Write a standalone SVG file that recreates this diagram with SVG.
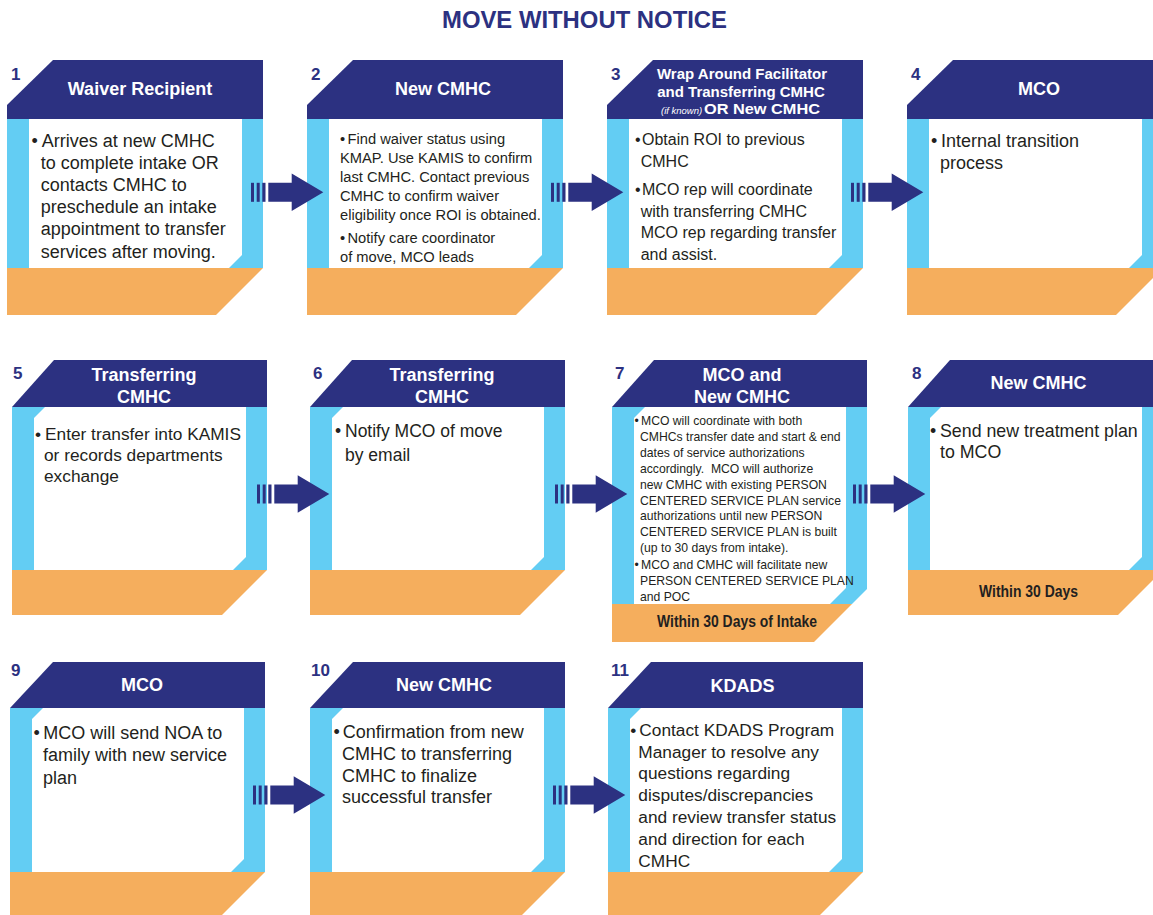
<svg xmlns="http://www.w3.org/2000/svg" xmlns:xlink="http://www.w3.org/1999/xlink" width="1153" height="915" viewBox="0 0 1153 915">
<style>
.nv{fill:#2c3181}
.lb{fill:#63cdf3}
.wh{fill:#ffffff}
.or{fill:#f5ae5d}
.ttl{font-family:"Liberation Sans",Arial,sans-serif;font-weight:bold;fill:#2c3181;font-size:24px;text-anchor:middle}
.num{font-family:"Liberation Sans",Arial,sans-serif;font-weight:bold;fill:#2c3181;font-size:17px}
.hd{font-family:"Liberation Sans",Arial,sans-serif;font-weight:bold;fill:#ffffff;font-size:18px;text-anchor:middle}
.hs{font-family:"Liberation Sans",Arial,sans-serif;font-weight:bold;fill:#ffffff;font-size:15px;text-anchor:middle}
.it{font-family:"Liberation Sans",Arial,sans-serif;font-style:italic;font-weight:normal;fill:#ffffff;font-size:9.5px}
.bd{font-family:"Liberation Sans",Arial,sans-serif;fill:#231f20}
.ft{font-family:"Liberation Sans",Arial,sans-serif;font-weight:bold;fill:#231f20;font-size:16px;text-anchor:middle}
</style>
<defs>
<g id="arr" class="nv">
<rect x="0" y="-9.5" width="3" height="19"/>
<rect x="5.7" y="-9.5" width="3" height="19"/>
<rect x="11.3" y="-9.5" width="3.2" height="19"/>
<polygon points="17.3,-9.5 40.7,-9.5 40.7,-18.7 72.3,0 40.7,18.7 40.7,9.5 17.3,9.5"/>
</g>
</defs>
<rect x="0" y="0" width="1153" height="915" fill="#ffffff"/>
<text class="ttl" x="584.5" y="28" textLength="285" lengthAdjust="spacingAndGlyphs">MOVE WITHOUT NOTICE</text>

<!-- Row 1 -->
<g id="node1">
<polygon class="nv" points="53,60 263,60 263,119 7,119 7,105"/>
<rect class="lb" x="7" y="119" width="256" height="149"/>
<polygon class="wh" points="29,119 242,119 242,255 229,268 29,268"/>
<polygon class="or" points="7,268 263,268 216,315 7,315"/>
<text class="num" x="11" y="80">1</text>
<text class="hd" x="140" y="94.5">Waiver Recipient</text>
<g class="bd" font-size="18">
<text x="31.5" y="146.5">•</text>
<text x="41.7" y="146.5">Arrives at new CMHC</text>
<text x="40.7" y="168.7">to complete intake OR</text>
<text x="40.7" y="190.9">contacts CMHC to</text>
<text x="40.7" y="213.1">preschedule an intake</text>
<text x="40.7" y="235.3">appointment to transfer</text>
<text x="40.7" y="257.5">services after moving.</text>
</g>
</g>

<g id="node2">
<polygon class="nv" points="353,60 563,60 563,119 307,119 307,105"/>
<rect class="lb" x="307" y="119" width="256" height="149"/>
<polygon class="wh" points="329,119 542,119 542,255 529,268 329,268"/>
<polygon class="or" points="307,268 563,268 516,315 307,315"/>
<text class="num" x="311" y="80">2</text>
<text class="hd" x="443" y="94.5">New CMHC</text>
<g class="bd" font-size="14.7">
<text x="340" y="143.5">•</text>
<text x="347.5" y="143.5">Find waiver status using</text>
<text x="340" y="162.5">KMAP. Use KAMIS to confirm</text>
<text x="340" y="181.5">last CMHC. Contact previous</text>
<text x="340" y="200.5">CMHC to confirm waiver</text>
<text x="340" y="219.5">eligibility once ROI is obtained.</text>
<text x="340" y="243">•</text>
<text x="347.5" y="243">Notify care coordinator</text>
<text x="340" y="262">of move, MCO leads</text>
</g>
</g>

<g id="node3">
<polygon class="nv" points="653,60 863,60 863,119 607,119 607,105"/>
<rect class="lb" x="607" y="119" width="256" height="149"/>
<polygon class="wh" points="629,119 842,119 842,255 829,268 629,268"/>
<polygon class="or" points="607,268 863,268 816,315 607,315"/>
<text class="num" x="611" y="80">3</text>
<text class="hs" x="742" y="79">Wrap Around Facilitator</text>
<text class="hs" x="741" y="97">and Transferring CMHC</text>
<text class="it" x="661" y="114">(if known)</text>
<text class="hs" x="704" y="114" style="text-anchor:start" textLength="116" lengthAdjust="spacingAndGlyphs">OR New CMHC</text>
<g class="bd" font-size="16">
<text x="635" y="145">•</text>
<text x="642" y="145">Obtain ROI to previous</text>
<text x="640.7" y="166.7">CMHC</text>
<text x="635" y="195">•</text>
<text x="642" y="195">MCO rep will coordinate</text>
<text x="640.7" y="216.7">with transferring CMHC</text>
<text x="640.7" y="238.3">MCO rep regarding transfer</text>
<text x="640.7" y="260">and assist.</text>
</g>
</g>

<g id="node4">
<polygon class="nv" points="953,60 1163,60 1163,119 907,119 907,105"/>
<rect class="lb" x="907" y="119" width="256" height="149"/>
<polygon class="wh" points="929,119 1142,119 1142,255 1129,268 929,268"/>
<polygon class="or" points="907,268 1163,268 1116,315 907,315"/>
<text class="num" x="911" y="80">4</text>
<text class="hd" x="1039" y="94.5">MCO</text>
<g class="bd" font-size="18">
<text x="931" y="146.5">•</text>
<text x="941" y="146.5">Internal transition</text>
<text x="940" y="168.7">process</text>
</g>
</g>

<!-- Row 2 -->
<g id="node5">
<polygon class="nv" points="54,360 267,360 267,407 12,407"/>
<rect class="lb" x="12" y="407" width="255" height="163"/>
<polygon class="wh" points="34,418 45,407 246,407 246,557 233,570 34,570"/>
<polygon class="or" points="12,570 267,570 222,615 12,615"/>
<text class="num" x="13" y="379">5</text>
<text class="hd" x="144" y="381">Transferring</text>
<text class="hd" x="144" y="403">CMHC</text>
<g class="bd" font-size="17.3">
<text x="35" y="440">•</text>
<text x="45" y="440">Enter transfer into KAMIS</text>
<text x="44" y="461">or records departments</text>
<text x="44" y="482">exchange</text>
</g>
</g>

<g id="node6">
<polygon class="nv" points="352,360 565,360 565,407 310,407"/>
<rect class="lb" x="310" y="407" width="255" height="163"/>
<polygon class="wh" points="332,418 343,407 544,407 544,557 531,570 332,570"/>
<polygon class="or" points="310,570 565,570 520,615 310,615"/>
<text class="num" x="313" y="379">6</text>
<text class="hd" x="442" y="381">Transferring</text>
<text class="hd" x="442" y="403">CMHC</text>
<g class="bd" font-size="17.5">
<text x="335" y="437">•</text>
<text x="345" y="437">Notify MCO of move</text>
<text x="345" y="461">by email</text>
</g>
</g>

<g id="node7">
<polygon class="nv" points="654,360 867,360 867,407 612,407"/>
<polygon class="lb" points="612,407 867,407 867,589 852,604 612,604"/>
<polygon class="wh" points="634,418 645,407 846,407 846,588 830,604 634,604"/>
<polygon class="or" points="612,604 852,604 814,642 612,642"/>
<text class="num" x="615" y="379">7</text>
<text class="hd" x="742" y="381">MCO and</text>
<text class="hd" x="742" y="403">New CMHC</text>
<g class="bd" font-size="12.2">
<text x="634.5" y="425">•</text>
<text x="641" y="425">MCO will coordinate with both</text>
<text x="640" y="440.9">CMHCs transfer date and start &amp; end</text>
<text x="640" y="456.8">dates of service authorizations</text>
<text x="640" y="472.7" xml:space="preserve">accordingly.  MCO will authorize</text>
<text x="640" y="488.6">new CMHC with existing PERSON</text>
<text x="640" y="504.5">CENTERED SERVICE PLAN service</text>
<text x="640" y="520.4">authorizations until new PERSON</text>
<text x="640" y="536.3">CENTERED SERVICE PLAN is built</text>
<text x="640" y="552.2">(up to 30 days from intake).</text>
<text x="634.5" y="569">•</text>
<text x="641" y="569">MCO and CMHC will facilitate new</text>
<text x="640" y="585">PERSON CENTERED SERVICE PLAN</text>
<text x="640" y="601">and POC</text>
</g>
<text class="ft" x="737" y="627" textLength="160" lengthAdjust="spacingAndGlyphs">Within 30 Days of Intake</text>
</g>

<g id="node8">
<polygon class="nv" points="950,360 1163,360 1163,407 908,407"/>
<rect class="lb" x="908" y="407" width="255" height="163"/>
<polygon class="wh" points="930,418 941,407 1142,407 1142,557 1129,570 930,570"/>
<polygon class="or" points="908,570 1163,570 1118,615 908,615"/>
<text class="num" x="912" y="379">8</text>
<text class="hd" x="1038.5" y="389">New CMHC</text>
<g class="bd" font-size="17.8">
<text x="930" y="437">•</text>
<text x="940" y="437">Send new treatment plan</text>
<text x="940" y="458">to MCO</text>
</g>
<text class="ft" x="1028.5" y="597" textLength="99" lengthAdjust="spacingAndGlyphs">Within 30 Days</text>
</g>

<!-- Row 3 -->
<g id="node9">
<polygon class="nv" points="53,662 265,662 265,708 10,708"/>
<rect class="lb" x="10" y="708" width="255" height="164"/>
<polygon class="wh" points="32,719 43,708 244,708 244,859 231,872 32,872"/>
<polygon class="or" points="10,872 265,872 221,916 10,916"/>
<text class="num" x="11" y="676">9</text>
<text class="hd" x="142" y="691">MCO</text>
<g class="bd" font-size="18">
<text x="33.5" y="738.5">•</text>
<text x="43.3" y="738.5">MCO will send NOA to</text>
<text x="43" y="761">family with new service</text>
<text x="43" y="783.5">plan</text>
</g>
</g>

<g id="node10">
<polygon class="nv" points="353,662 565,662 565,708 310,708"/>
<rect class="lb" x="310" y="708" width="255" height="164"/>
<polygon class="wh" points="332,719 343,708 544,708 544,859 531,872 332,872"/>
<polygon class="or" points="310,872 565,872 521,916 310,916"/>
<text class="num" x="311" y="676">10</text>
<text class="hd" x="444" y="691">New CMHC</text>
<g class="bd" font-size="18">
<text x="333.5" y="738.3">•</text>
<text x="342.7" y="738.3">Confirmation from new</text>
<text x="342" y="760">CMHC to transferring</text>
<text x="342" y="781.7">CMHC to finalize</text>
<text x="342" y="803.4">successful transfer</text>
</g>
</g>

<g id="node11">
<polygon class="nv" points="651,662 863,662 863,708 608,708"/>
<rect class="lb" x="608" y="708" width="255" height="164"/>
<polygon class="wh" points="630,719 641,708 842,708 842,859 829,872 630,872"/>
<polygon class="or" points="608,872 863,872 819,916 608,916"/>
<text class="num" x="611" y="676">11</text>
<text class="hd" x="742.5" y="692">KDADS</text>
<g class="bd" font-size="17.3">
<text x="630.3" y="735.7">•</text>
<text x="639.3" y="735.7">Contact KDADS Program</text>
<text x="638.3" y="757.5">Manager to resolve any</text>
<text x="638.3" y="779.3">questions regarding</text>
<text x="638.3" y="801.1">disputes/discrepancies</text>
<text x="638.3" y="822.9">and review transfer status</text>
<text x="638.3" y="844.7">and direction for each</text>
<text x="638.3" y="866.5">CMHC</text>
</g>
</g>

<g id="connectors">
<use xlink:href="#arr" href="#arr" transform="translate(251,192.3)"/>
<use xlink:href="#arr" href="#arr" transform="translate(551,192.3)"/>
<use xlink:href="#arr" href="#arr" transform="translate(851,192.3)"/>
<use xlink:href="#arr" href="#arr" transform="translate(257,494)"/>
<use xlink:href="#arr" href="#arr" transform="translate(555,494)"/>
<use xlink:href="#arr" href="#arr" transform="translate(853,494)"/>
<use xlink:href="#arr" href="#arr" transform="translate(253,795)"/>
<use xlink:href="#arr" href="#arr" transform="translate(553,795)"/>
</g>
</svg>
